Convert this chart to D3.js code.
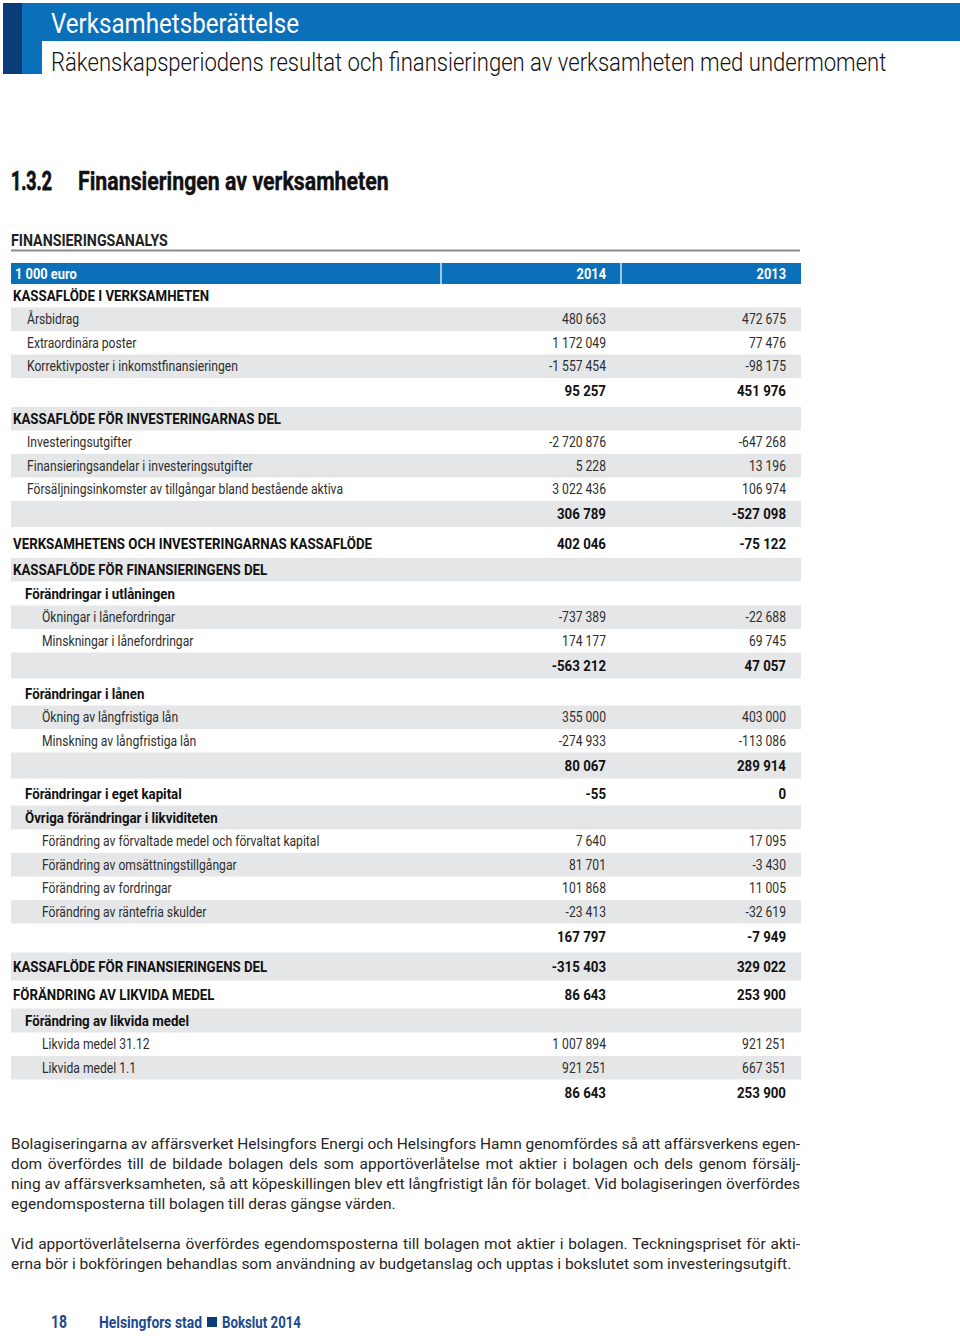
<!DOCTYPE html>
<html>
<head>
<meta charset="utf-8">
<script src="https://cdn.jsdelivr.net/npm/d3@7"></script>
<style>
  html, body { margin: 0; padding: 0; background: #fff; }
  svg { display: block; }
</style>
</head>
<body>
<svg id="page" width="960" height="1336"></svg>
<script>
// ---------------- DATA ----------------
const pageTitle = "Verksamhetsberättelse";
const pageSubtitle = "Räkenskapsperiodens resultat och finansieringen av verksamheten med undermoment";
const sectionNumber = "1.3.2";
const sectionTitle = "Finansieringen av verksamheten";
const tableTitle = "FINANSIERINGSANALYS";
const unitLabel = "1 000 euro";
const years = ["2014", "2013"];

const rowLabels = [
  "KASSAFLÖDE I VERKSAMHETEN",
  "Årsbidrag",
  "Extraordinära poster",
  "Korrektivposter i inkomstfinansieringen",
  "",
  "KASSAFLÖDE FÖR INVESTERINGARNAS DEL",
  "Investeringsutgifter",
  "Finansieringsandelar i investeringsutgifter",
  "Försäljningsinkomster av tillgångar bland bestående aktiva",
  "",
  "VERKSAMHETENS OCH INVESTERINGARNAS KASSAFLÖDE",
  "KASSAFLÖDE FÖR FINANSIERINGENS DEL",
  "Förändringar i utlåningen",
  "Ökningar i lånefordringar",
  "Minskningar i lånefordringar",
  "",
  "Förändringar i lånen",
  "Ökning av långfristiga lån",
  "Minskning av långfristiga lån",
  "",
  "Förändringar i eget kapital",
  "Övriga förändringar i likviditeten",
  "Förändring av förvaltade medel och förvaltat kapital",
  "Förändring av omsättningstillgångar",
  "Förändring av fordringar",
  "Förändring av räntefria skulder",
  "",
  "KASSAFLÖDE FÖR FINANSIERINGENS DEL",
  "FÖRÄNDRING AV LIKVIDA MEDEL",
  "Förändring av likvida medel",
  "Likvida medel 31.12",
  "Likvida medel 1.1",
  ""
];

// row kinds: h1 = upper-case section head, grand = upper-case line with values,
// h2 = bold sub head, item1/item2 = regular lines (two indent levels), total = bold sum line
const rowKinds = [
  "h1", "item1", "item1", "item1", "total",
  "h1", "item1", "item1", "item1", "total",
  "grand", "h1", "h2", "item2", "item2", "total",
  "h2", "item2", "item2", "total",
  "h2", "h2", "item2", "item2", "item2", "item2", "total",
  "grand", "grand", "h2", "item2", "item2", "total"
];

const values2014 = [
  null, 480663, 1172049, -1557454, 95257,
  null, -2720876, 5228, 3022436, 306789,
  402046, null, null, -737389, 174177, -563212,
  null, 355000, -274933, 80067,
  -55, null, 7640, 81701, 101868, -23413, 167797,
  -315403, 86643, null, 1007894, 921251, 86643
];

const values2013 = [
  null, 472675, 77476, -98175, 451976,
  null, -647268, 13196, 106974, -527098,
  -75122, null, null, -22688, 69745, 47057,
  null, 403000, -113086, 289914,
  0, null, 17095, -3430, 11005, -32619, -7949,
  329022, 253900, null, 921251, 667351, 253900
];

const paragraphs = [
  [
    "Bolagiseringarna av affärsverket Helsingfors Energi och Helsingfors Hamn genomfördes så att affärsverkens egen-",
    "dom överfördes till de bildade bolagen dels som apportöverlåtelse mot aktier i bolagen och dels genom försälj-",
    "ning av affärsverksamheten, så att köpeskillingen blev ett långfristigt lån för bolaget. Vid bolagiseringen överfördes",
    "egendomsposterna till bolagen till deras gängse värden."
  ],
  [
    "Vid apportöverlåtelserna överfördes egendomsposterna till bolagen mot aktier i bolagen. Teckningspriset för akti-",
    "erna bör i bokföringen behandlas som användning av budgetanslag och upptas i bokslutet som investeringsutgift."
  ]
];

const pageNumber = "18";
const footerParts = ["Helsingfors stad", "Bokslut 2014"];

// ---------------- STYLE / LAYOUT ----------------
const FONT = "Roboto, 'Liberation Sans', Arial, sans-serif";
const BLUE = "#0a70ba";
const NAVY = "#0b3c78";
const GRAY = "#e5e6e7";
const TEXT = "#262626";
const FOOT = "#1d4a8e";

const svg = d3.select("#page");

// measuring helpers
function measure(str, size, weight) {
  const t = svg.append("text").attr("font-family", FONT).attr("font-size", size)
    .attr("font-weight", weight).text(str);
  const w = t.node().getComputedTextLength();
  t.remove();
  return w;
}
function squeeze(sel, k) {
  sel.each(function () {
    const w = this.getComputedTextLength();
    d3.select(this).attr("textLength", w * k).attr("lengthAdjust", "spacingAndGlyphs");
  });
  return sel;
}
// place a single text at (x, y), horizontally scaled to a given width
function fitLabel(x, y, str, size, weight, fill, width) {
  const t = svg.append("text").attr("x", 0).attr("y", 0)
    .attr("font-family", FONT).attr("font-size", size).attr("font-weight", weight)
    .attr("fill", fill).text(str);
  const w = t.node().getComputedTextLength();
  t.attr("transform", `translate(${x},${y}) scale(${width / w},1)`);
  return t;
}

// ---- page header ----
svg.append("rect").attr("x", 22).attr("y", 3).attr("width", 938).attr("height", 38).attr("fill", BLUE);
svg.append("rect").attr("x", 22).attr("y", 41).attr("width", 20).attr("height", 33).attr("fill", BLUE);
svg.append("rect").attr("x", 3).attr("y", 3).attr("width", 19).attr("height", 71).attr("fill", NAVY);
fitLabel(51, 33, pageTitle, 27, 400, "#fff", 248);
fitLabel(51, 71, pageSubtitle, 26, 300, "#111", 836);

// ---- section heading ----
fitLabel(11, 190, sectionNumber, 25, 700, "#111", 41).attr("stroke", "#111").attr("stroke-width", 0.8);
fitLabel(78, 190, sectionTitle, 25, 700, "#111", 311).attr("stroke", "#111").attr("stroke-width", 0.4);

// ---- table title ----
const tableLeft = 11, tableRight = 801;
fitLabel(tableLeft, 246, tableTitle, 16, 700, "#222", 157);
svg.append("line").attr("x1", tableLeft).attr("x2", tableRight - 1).attr("y1", 250.5).attr("y2", 250.5)
  .attr("stroke", "#8c8c8c").attr("stroke-width", 2);

// condense factors for the table's narrow type
const REG = 14.5, BOLD = 15, REGW = 400;
const kReg = 316 / measure("Försäljningsinkomster av tillgångar bland bestående aktiva", REG, REGW);
const kBold = 359 / measure("VERKSAMHETENS OCH INVESTERINGARNAS KASSAFLÖDE", BOLD, 700);

// ---- column scale ----
const columns = ["label", ...years];
const colEdge = d3.scaleOrdinal().domain(columns).range([441, 621, 801]); // right edges
const valueX = c => colEdge(c) - 15;

// header bar
const headerTop = 263, headerH = 21;
svg.append("rect").attr("x", tableLeft).attr("y", headerTop).attr("width", tableRight - tableLeft).attr("height", headerH).attr("fill", BLUE);
svg.selectAll("line.sep").data(columns.slice(0, 2)).enter().append("line")
  .attr("class", "sep")
  .attr("x1", d => colEdge(d)).attr("x2", d => colEdge(d))
  .attr("y1", headerTop).attr("y2", headerTop + headerH)
  .attr("stroke", "#d6e6f4").attr("stroke-width", 1.5);
squeeze(svg.append("text").attr("x", 15).attr("y", headerTop + 16)
  .attr("font-family", FONT).attr("font-weight", 700).attr("font-size", BOLD - 0.5).attr("fill", "#fff")
  .text(unitLabel), kBold);
squeeze(svg.selectAll("text.year").data(years).enter().append("text")
  .attr("class", "year")
  .attr("x", d => valueX(d)).attr("y", headerTop + 16)
  .attr("text-anchor", "end")
  .attr("font-family", FONT).attr("font-weight", 700).attr("font-size", BOLD - 0.5).attr("fill", "#fff")
  .text(d => d), kBold);

// ---- rows ----
const kindHeight = { h1: 23.5, item1: 23.5, item2: 23.5, h2: 24, total: 26, grand: 28 };
const kindIndent = { h1: 13, grand: 13, h2: 25, item1: 27, item2: 42, total: 27 };
const gapAfterTotal = 3;

const rows = rowLabels.map((lab, i) => ({
  label: lab, kind: rowKinds[i], v: { "2014": values2014[i], "2013": values2013[i] }, i
}));
let cursor = headerTop + headerH;
rows.forEach(r => {
  r.top = cursor;
  r.h = kindHeight[r.kind];
  cursor += r.h;
  if (r.kind === "total") cursor += gapAfterTotal;
});

const fmt = d3.formatLocale({ decimal: ",", thousands: " ", grouping: [3], currency: ["", ""], minus: "-" }).format(",d");

const rowG = svg.append("g").selectAll("g.row").data(rows).enter().append("g").attr("class", "row")
  .attr("transform", d => `translate(0,${d.top})`);

rowG.filter(d => d.i % 2 === 1).append("rect")
  .attr("x", tableLeft).attr("y", 0).attr("width", tableRight - tableLeft).attr("height", d => d.h)
  .attr("fill", GRAY);

const isBold = k => k === "h1" || k === "h2" || k === "grand" || k === "total";
function styleText(sel) {
  return sel
    .attr("y", d => d.h / 2 + 5)
    .attr("font-family", FONT)
    .attr("font-weight", d => isBold(d.kind) ? 700 : REGW)
    .attr("font-size", d => isBold(d.kind) ? BOLD : REG)
    .attr("fill", d => isBold(d.kind) ? "#111" : "#2e2e2e");
}

const labels = styleText(rowG.filter(d => d.label !== "").append("text")
  .attr("x", d => kindIndent[d.kind])
  .text(d => d.label));
labels.each(function (d) { squeeze(d3.select(this), isBold(d.kind) ? kBold : kReg); });

years.forEach(y => {
  const nums = styleText(rowG.filter(d => d.v[y] !== null).append("text")
    .attr("x", valueX(y))
    .attr("text-anchor", "end")
    .text(d => fmt(d.v[y])));
  nums.each(function (d) { squeeze(d3.select(this), isBold(d.kind) ? kBold : kReg); });
});

// ---- paragraphs (justified) ----
const paraLeft = 11, paraRight = 800, lineH = 20, PSIZE = 15.5, PW = 400;
let baseY = 1149;
const spaceW = measure("a a", PSIZE, PW) - measure("aa", PSIZE, PW);
paragraphs.forEach(lines => {
  lines.forEach((line, li) => {
    const last = li === lines.length - 1;
    const words = line.split(" ");
    const widths = words.map(w => measure(w, PSIZE, PW));
    const total = d3.sum(widths);
    let gap = last ? spaceW : (paraRight - paraLeft - total) / (words.length - 1);
    let scale = 1;
    if (gap < spaceW * 0.7) {
      gap = spaceW * 0.7;
      scale = (paraRight - paraLeft - gap * (words.length - 1)) / total;
    } else if (last) {
      const natural = total + gap * (words.length - 1);
      if (natural > paraRight - paraLeft) scale = (paraRight - paraLeft - gap * (words.length - 1)) / total;
    }
    const t = svg.append("text").attr("y", baseY)
      .attr("font-family", FONT).attr("font-size", PSIZE).attr("font-weight", PW).attr("fill", TEXT);
    let x = paraLeft;
    words.forEach((w, wi) => {
      const ts = t.append("tspan").attr("x", x).text(w);
      if (scale !== 1) ts.attr("textLength", widths[wi] * scale).attr("lengthAdjust", "spacingAndGlyphs");
      x += widths[wi] * scale + gap;
    });
    baseY += lineH;
  });
  baseY += lineH;
});

// ---- footer ----
fitLabel(51, 1328, pageNumber, 19, 700, FOOT, 16);
fitLabel(99, 1328, footerParts[0], 16, 700, FOOT, 103);
svg.append("rect").attr("x", 207).attr("y", 1317).attr("width", 10).attr("height", 10).attr("fill", NAVY);
fitLabel(222, 1328, footerParts[1], 16, 700, FOOT, 79);
</script>
</body>
</html>
